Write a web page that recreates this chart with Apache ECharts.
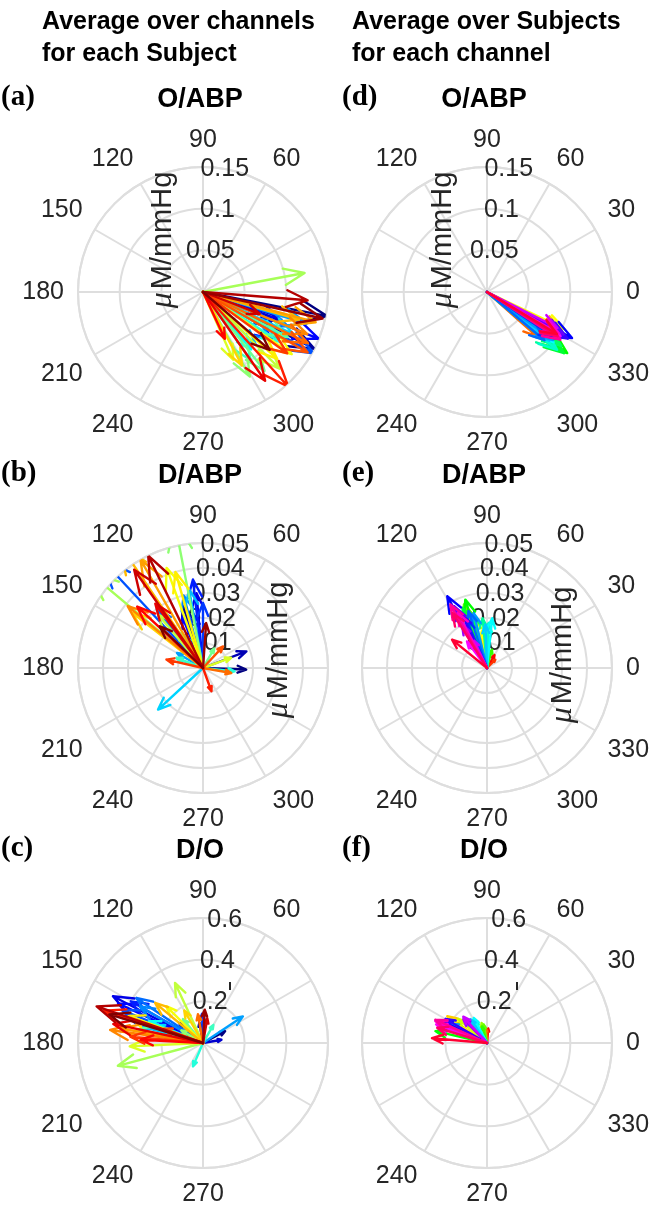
<!DOCTYPE html>
<html>
<head>
<meta charset="utf-8">
<script src="https://cdn.jsdelivr.net/npm/echarts@6/dist/echarts.min.js"></script>
<style>
  html, body { margin: 0; padding: 0; background: #fff; }
  #main { width: 650px; height: 1211px; }
</style>
</head>
<body>
<div id="main"></div>
<script>
// ---- Data: compass vectors [magnitude, phase in degrees] ----
// Left column: average over channels, one vector per subject (40 subjects)
const oAbpSubjMag = [0.152,0.150,0.110,0.100,0.095,0.150,0.100,0.090,0.152,0.110,0.100,0.130,0.090,0.120,0.105,0.090,0.110,0.100,0.115,0.120,0.116,0.124,0.130,0.089,0.130,0.120,0.100,0.120,0.140,0.135,0.140,0.145,0.125,0.153,0.062,0.130,0.073,0.126,0.147,0.106];
const oAbpSubjAng = [-11,-27,-30,-20,-18,-22,-34,-26,-29,-22,-35,-17,-45,-25,-30,-50,-33,-55,-28,-52,-61,10.6,-45,-66,-35,-42,-62,-16,-15,-22,-26,-30,-36,-48,-65,-55,-21,-4.5,-12.5,-41];

const dAbpSubjMag = [0.0173,0.026,0.0186,0.022,0.030,0.022,0.0356,0.026,0.060,0.030,0.030,0.012,0.032,0.0245,0.011,0.015,0.0127,0.0114,0.018,0.009,0.060,0.060,0.028,0.012,0.0426,0.040,0.036,0.060,0.050,0.039,0.0115,0.0118,0.015,0.0099,0.036,0.032,0.048,0.050,0.018,0.024];
const dAbpSubjAng = [-2,108,21,100,95,112,96.5,90,133,128,105,150,100,222.8,160,120,-6,159,125,60,101,140,130,20,110,106,142,124,120,140.6,-10,47,167,290,137,126.6,125,116,86,136];

const dOSubjMag = [0.12,0.10,0.15,0.09,0.487,0.45,0.40,0.14,0.42,0.386,0.35,0.23,0.30,0.25,0.20,0.28,0.122,0.10,0.32,0.15,0.12,0.423,0.318,0.352,0.25,0.38,0.18,0.30,0.40,0.45,0.14,0.20,0.35,0.50,0.30,0.44,0.12,0.54,0.16,0.47];
const dOSubjAng = [28,100,140,10,152.6,155,150,92,158,146,150,33.7,165,160,170,158,246.8,60,168,130,150,195,115,182.6,135,160,120,140,170,172,100,160,175,162,177,168,80,161,87,163];

// Right column: average over subjects, one vector per channel (30 channels)
const oAbpChanMag = [0.100,0.095,0.080,0.098,0.100,0.103,0.095,0.100,0.108,0.112,0.121,0.118,0.110,0.105,0.109,0.100,0.095,0.098,0.090,0.100,0.116,0.112,0.105,0.100,0.095,0.103,0.100,0.105,0.100,0.098];
const oAbpChanAng = [-32,-34,-41.6,-30,-27,-25.5,-33,-36,-35,-38,-37.3,-38.5,-36,-40,-39.5,-37,-38,-36,-40,-34,-28.4,-30,-29,-31,-27,-31,-30,-33,-32,-31];

const dAbpChanMag = [0.006,0.0047,0.006,0.009,0.012,0.015,0.020,0.025,0.027,0.0076,0.0287,0.026,0.022,0.020,0.018,0.020,0.0174,0.0226,0.024,0.021,0.0328,0.0236,0.028,0.020,0.012,0.0133,0.025,0.0293,0.026,0.018];
const dAbpChanAng = [60,45,80,95,100,98,104,108,110,75,107.6,112,105,95,88,84,92,103.6,108,113,119,115,118,120,115,127,118,120,122,141];

const dOChanMag = [0.07,0.064,0.07,0.20,0.23,0.22,0.18,0.10,0.09,0.0835,0.254,0.20,0.15,0.12,0.13,0.136,0.14,0.20,0.24,0.25,0.24,0.23,0.164,0.16,0.17,0.26,0.27,0.272,0.25,0.265];
const dOChanAng = [85,90,95,150,146,148,140,105,100,107,167,155,130,120,118,118,125,152,154,158,154,150,133,135,132,160,157,155.7,163,175];

// Tick labels
const angleTickLabels = ['0','30','60','90','120','150','180','210','240','270','300','330'];
const radiusTicksAbpO = ['0.05','0.1','0.15'];
const radiusTicksAbpD = ['0.01','0.02','0.03','0.04','0.05'];
const radiusTicksDO   = ['0.2','0.4','0.6'];
const panelTitles = ['O/ABP','D/ABP','D/O'];
const panelLetters = ['(a)','(b)','(c)','(d)','(e)','(f)'];
const columnHeaders = ['Average over channels\nfor each Subject', 'Average over Subjects\nfor each channel'];

// ---- Colormaps ----
function clamp01(v) { return Math.max(0, Math.min(1, v)); }
function rgb(r, g, b) {
  return 'rgb(' + Math.round(r * 255) + ',' + Math.round(g * 255) + ',' + Math.round(b * 255) + ')';
}
function jet(n) {
  const out = [];
  for (let i = 0; i < n; i++) {
    const t = n > 1 ? i / (n - 1) : 0;
    out.push(rgb(
      clamp01(Math.min(4 * t - 1.5, -4 * t + 4.5)),
      clamp01(Math.min(4 * t - 0.5, -4 * t + 3.5)),
      clamp01(Math.min(4 * t + 0.5, -4 * t + 2.5))
    ));
  }
  return out;
}
function hsv(n) {
  const out = [];
  for (let i = 0; i < n; i++) {
    const h = (i / n) * 6;
    const k = Math.floor(h), f = h - k;
    const q = 1 - f, t = f;
    const c = [[1, t, 0], [q, 1, 0], [0, 1, t], [0, q, 1], [t, 0, 1], [1, 0, q]][k % 6];
    out.push(rgb(c[0], c[1], c[2]));
  }
  return out;
}
const subjColors = jet(oAbpSubjMag.length);
const chanColors = hsv(oAbpChanMag.length);

// ---- Layout ----
const R = 125;
const colX = [203, 487];
const rowY = [292, 668, 1043];
const gridColor = '#dedede';
const textColor = '#262626';
const sans = '"Liberation Sans", Arial, Helvetica, sans-serif';

const panels = [
  { col: 0, row: 0, mag: oAbpSubjMag, ang: oAbpSubjAng, max: 0.15, step: 0.05, ticks: radiusTicksAbpO, colors: subjColors, hide: ['0','30','330'], unit: [-40, -52] },
  { col: 0, row: 1, mag: dAbpSubjMag, ang: dAbpSubjAng, max: 0.05, step: 0.01, ticks: radiusTicksAbpD, colors: subjColors, hide: ['0','30','330'], unit: [76, -18] },
  { col: 0, row: 2, mag: dOSubjMag,   ang: dOSubjAng,   max: 0.6,  step: 0.2,  ticks: radiusTicksDO,   colors: subjColors, hide: ['0','30','330','300'], unit: null },
  { col: 1, row: 0, mag: oAbpChanMag, ang: oAbpChanAng, max: 0.15, step: 0.05, ticks: radiusTicksAbpO, colors: chanColors, hide: ['150','180','210'], unit: [-44, -52] },
  { col: 1, row: 1, mag: dAbpChanMag, ang: dAbpChanAng, max: 0.05, step: 0.01, ticks: radiusTicksAbpD, colors: chanColors, hide: ['150','180','210'], unit: [76, -13] },
  { col: 1, row: 2, mag: dOChanMag,   ang: dOChanAng,   max: 0.6,  step: 0.2,  ticks: radiusTicksDO,   colors: chanColors, hide: ['150','180','210','300'], unit: null }
];

// Compass arrow: shaft from origin to tip, then the two barbs of the head
const HEAD_R = Math.hypot(0.8, 0.08);
const HEAD_A = Math.atan2(0.08, 0.8) * 180 / Math.PI;
function norm(a) { return ((a % 360) + 360) % 360; }
function arrowPath(m, a) {
  return [
    [0, norm(a)],
    [m, norm(a)],
    [m * HEAD_R, norm(a + HEAD_A)],
    [m, norm(a)],
    [m * HEAD_R, norm(a - HEAD_A)]
  ];
}

const polar = [], angleAxis = [], radiusAxis = [], series = [], title = [], graphic = [];

panels.forEach((p, k) => {
  const cx = colX[p.col], cy = rowY[p.row];
  const mainIdx = polar.length;
  // main compass grid
  polar.push({ center: [cx, cy], radius: R });
  angleAxis.push({
    polarIndex: mainIdx, type: 'value', min: 0, max: 360, interval: 30,
    startAngle: 0, clockwise: false,
    axisLine: { show: true, lineStyle: { color: gridColor, width: 2 } },
    axisTick: { show: false },
    splitLine: { show: true, lineStyle: { color: gridColor, width: 2 } },
    axisLabel: {
      show: true, margin: 14, fontSize: 25, color: textColor, fontFamily: sans,
      formatter: v => {
        const s = angleTickLabels[Math.round(v / 30) % 12];
        return (v >= 360 || p.hide.indexOf(s) >= 0) ? '' : s;
      }
    }
  });
  radiusAxis.push({
    polarIndex: mainIdx, type: 'value', min: 0, max: p.max, interval: p.step,
    axisLine: { show: false }, axisTick: { show: false }, axisLabel: { show: false },
    splitLine: { show: true, lineStyle: { color: gridColor, width: 2 } }
  });
  // Radial tick labels laid out along the 80 degree direction. This helper
  // axis runs one step past the outer ring (same px per unit), so every real
  // ring value is an inner tick and keeps its label.
  const lblIdx = polar.length;
  const extMax = p.max + p.step;
  polar.push({ center: [cx, cy], radius: R * extMax / p.max });
  angleAxis.push({
    polarIndex: lblIdx, type: 'value', min: 0, max: 360, startAngle: 80, clockwise: false,
    axisLine: { show: false }, axisTick: { show: false }, axisLabel: { show: false }, splitLine: { show: false }
  });
  radiusAxis.push({
    polarIndex: lblIdx, type: 'value', min: 0, max: extMax, interval: p.step,
    axisLine: { show: false }, axisTick: { show: false }, splitLine: { show: false },
    axisLabel: {
      show: true, margin: 0, align: 'center', verticalAlign: 'middle', rotate: 0,
      showMaxLabel: false, showMinLabel: false, hideOverlap: false,
      fontSize: 25, lineHeight: 18, color: textColor, fontFamily: sans,
      formatter: v => {
        const i = Math.round(v / p.step);
        return i >= 1 ? (p.ticks[i - 1] || '') : '';
      }
    }
  });
  // arrows
  p.mag.forEach((m, i) => {
    series.push({
      type: 'line', coordinateSystem: 'polar', polarIndex: mainIdx,
      data: arrowPath(m, p.ang[i]),
      symbol: 'none', showSymbol: false, silent: true, clip: true,
      lineStyle: { color: p.colors[i], width: 2.4, cap: 'round', join: 'round' },
      z: 3
    });
  });
  // panel title and letter
  title.push({
    text: panelTitles[p.row], left: cx - 3, top: cy - 206, textAlign: 'center', padding: 0,
    textStyle: { fontSize: 27, fontWeight: 'bold', color: '#000', fontFamily: sans }
  });
  graphic.push({
    type: 'text', x: p.col === 0 ? 1 : 342, y: cy - 194, z: 10,
    style: { text: panelLetters[k], font: 'bold 29px "Liberation Serif", "Times New Roman", serif', fill: '#000', verticalAlign: 'middle' }
  });
  if (p.unit) {
    graphic.push({
      type: 'text', x: cx + p.unit[0], y: cy + p.unit[1], rotation: Math.PI / 2, z: 1,
      style: {
        text: '{mu|μ}M/mmHg', fontSize: 29, fontFamily: sans, fill: textColor,
        align: 'center', verticalAlign: 'middle',
        rich: { mu: { fontSize: 32, fontStyle: 'italic', fontFamily: '"Liberation Serif", serif', fill: textColor, padding: [0, 3, 0, 0] } }
      }
    });
  }
  if (p.row === 2) {
    graphic.push({ type: 'rect', x: cx + (p.col === 0 ? 26 : 29), y: cy - 61, z: 1,
      shape: { width: 2, height: 8 }, style: { fill: textColor } });
  }
});

columnHeaders.forEach((h, i) => {
  graphic.push({
    type: 'text', x: i === 0 ? 42 : 352, y: 6, z: 10,
    style: { text: h, fontSize: 25, fontWeight: 'bold', fontFamily: sans, fill: '#000', lineHeight: 32 }
  });
});

const chart = echarts.init(document.getElementById('main'), null, { renderer: 'canvas' });
chart.setOption({
  backgroundColor: '#fff',
  animation: false,
  title, polar, angleAxis, radiusAxis, series, graphic
});
</script>
</body>
</html>
